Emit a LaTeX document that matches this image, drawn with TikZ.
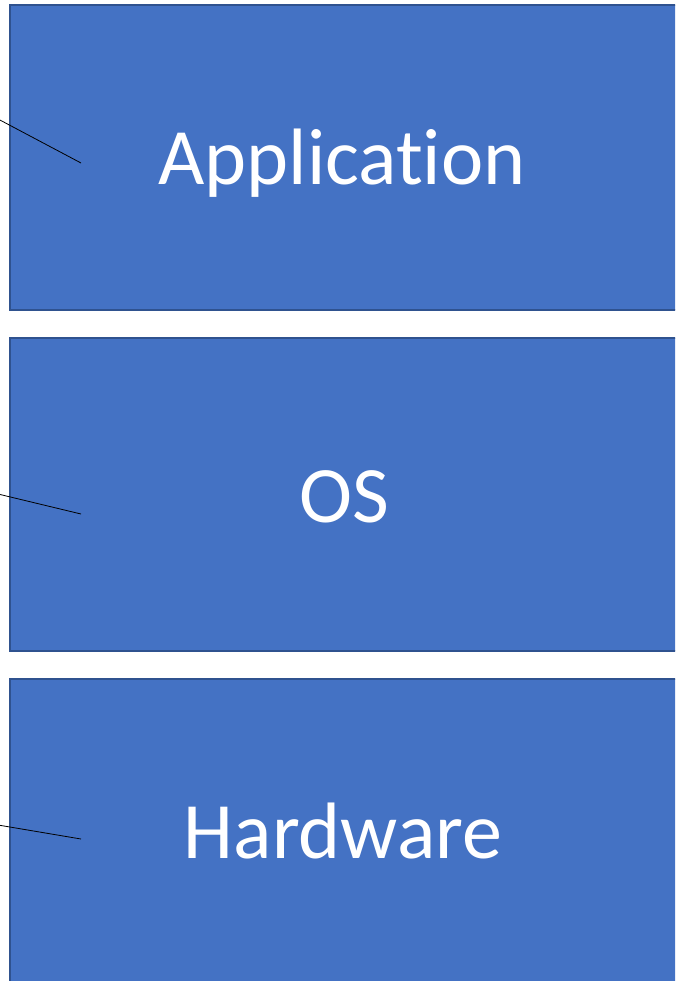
\documentclass[tikz,border=0pt]{standalone}
\usepackage{fontspec}
\setmainfont{Carlito}[Ligatures=CommonOff]
\begin{document}
\begin{tikzpicture}[x=1pt,y=-1pt,
  layer/.style={draw=layeredge,fill=layerfill,line width=1.8pt,rectangle,inner sep=0pt},
  layerlabel/.style={text=white,font=\fontsize{80}{96}\selectfont,anchor=base,inner sep=0pt},
  pointer/.style={draw=black,line width=0.8pt}]
\definecolor{layerfill}{HTML}{4472C4}
\definecolor{layeredge}{HTML}{2F528F}
\useasboundingbox (0,0) rectangle (675,981);
\clip (0,0) rectangle (675,981);
% the three stacked layers
\node[layer,minimum width=668pt,minimum height=305pt] (app) at (344,157.5) {};
\node[layer,minimum width=668pt,minimum height=313pt] (os) at (344,494.5) {};
\node[layer,minimum width=668pt,minimum height=312pt] (hw) at (344,835) {};
% layer names
\node[layerlabel] (appname) at (342,185) {Application};
\node[layerlabel] (osname) at (344.5,522) {OS};
\node[layerlabel] (hwname) at (343,858) {Hardware};
% pointer lines entering each layer from the left
\coordinate (appfrom) at (-2,119);
\coordinate (appto) at (81,163);
\coordinate (osfrom) at (-2,494);
\coordinate (osto) at (81,514);
\coordinate (hwfrom) at (-2,825);
\coordinate (hwto) at (81,839);
\draw[pointer] (appfrom) -- (appto);
\draw[pointer] (osfrom) -- (osto);
\draw[pointer] (hwfrom) -- (hwto);
\end{tikzpicture}
\end{document}
